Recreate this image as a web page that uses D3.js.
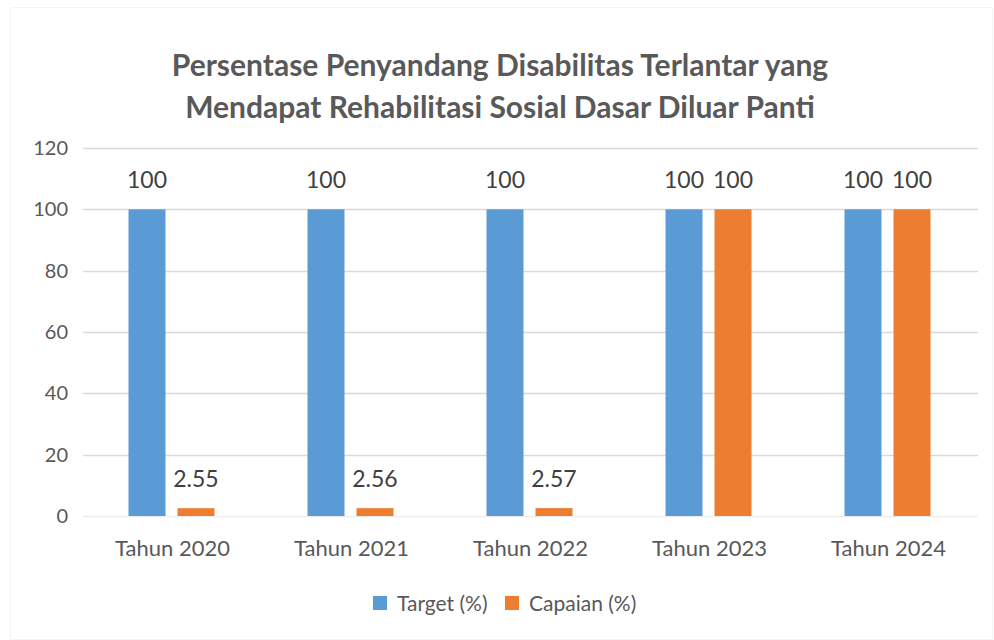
<!DOCTYPE html>
<html>
<head>
<meta charset="utf-8">
<script src="https://cdn.jsdelivr.net/npm/d3@7"></script>
<style>
  body { margin: 0; background: #fff; }
  svg text { font-family: Lato, "Noto Sans", sans-serif; }
</style>
</head>
<body>
<svg id="chart" width="994" height="640"></svg>
<script>
// chart data
var categories = ["Tahun 2020", "Tahun 2021", "Tahun 2022", "Tahun 2023", "Tahun 2024"];
var seriesNames = ["Target (%)", "Capaian (%)"];
var targetValues = [100, 100, 100, 100, 100];
var capaianValues = [2.55, 2.56, 2.57, 100, 100];
var capaianLabels = ["2.55", "2.56", "2.57", "100", "100"];
var yTicks = [0, 20, 40, 60, 80, 100, 120];
var colors = ["#5b9bd5", "#ed7d31"];

var svg = d3.select("#chart");
var margin = { top: 148, right: 16, bottom: 124, left: 83 };
var width = 994 - margin.left - margin.right;
var height = 640 - margin.top - margin.bottom;

// faint outer frame
svg.append("rect")
  .attr("x", 10.5).attr("y", 7.5)
  .attr("width", 994 - 12).attr("height", 640 - 8)
  .attr("fill", "#fff")
  .attr("stroke", "#f4f4f4");

// title
var title = svg.append("text")
  .attr("text-anchor", "middle")
  .attr("fill", "#595959")
  .attr("font-size", 30)
  .attr("font-weight", "bold");
title.append("tspan").attr("x", 500).attr("y", 76).text("Persentase Penyandang Disabilitas Terlantar yang");
title.append("tspan").attr("x", 500).attr("y", 118).text("Mendapat Rehabilitasi Sosial Dasar Diluar Panti");

var g = svg.append("g").attr("transform", "translate(" + margin.left + "," + margin.top + ")");

var x = d3.scaleBand().domain(categories).range([0, width]);
var x1 = d3.scaleBand().domain(seriesNames).range([0, 86]).paddingInner(0.245);
var y = d3.scaleLinear().domain([0, 120]).range([height, 0]);

// gridlines
g.selectAll("line.grid")
  .data(yTicks)
  .enter()
  .append("line")
  .attr("class", "grid")
  .attr("x1", 0)
  .attr("x2", width)
  .attr("y1", (d) => Math.round(y(d)) + 0.5)
  .attr("y2", (d) => Math.round(y(d)) + 0.5)
  .attr("stroke", (d) => (d === 0 ? "#ececec" : "#d9d9d9"))
  .attr("stroke-width", 1.5);

// y tick labels
g.selectAll("text.ytick")
  .data(yTicks)
  .enter()
  .append("text")
  .attr("class", "ytick")
  .attr("x", -15)
  .attr("y", (d) => y(d))
  .attr("dy", "0.35em")
  .attr("text-anchor", "end")
  .attr("fill", "#595959")
  .attr("font-size", 20)
  .text((d) => d);

var rows = categories.map(function (c, i) {
  return { cat: c, values: [targetValues[i], capaianValues[i]], labels: [String(targetValues[i]), capaianLabels[i]] };
});

var groups = g.selectAll("g.cat")
  .data(rows)
  .enter()
  .append("g")
  .attr("class", "cat")
  .attr("transform", (d) => "translate(" + (x(d.cat) + x.bandwidth() / 2 - 44) + ",0)");

groups.selectAll("rect")
  .data((d) => d.values.map((v, j) => ({ key: seriesNames[j], v: v, j: j })))
  .enter()
  .append("rect")
  .attr("x", (d) => x1(d.key))
  .attr("width", x1.bandwidth())
  .attr("y", (d) => y(d.v))
  .attr("height", (d) => y(0) - y(d.v))
  .attr("fill", (d) => colors[d.j]);

groups.selectAll("text.lbl")
  .data((d) => d.values.map((v, j) => ({ key: seriesNames[j], v: v, label: d.labels[j] })))
  .enter()
  .append("text")
  .attr("class", "lbl")
  .attr("x", (d) => x1(d.key) + x1.bandwidth() / 2)
  .attr("y", (d) => y(d.v) - 21)
  .attr("text-anchor", "middle")
  .attr("fill", "#404040")
  .attr("font-size", 23)
  .text((d) => d.label);

// x labels
g.selectAll("text.xlbl")
  .data(categories)
  .enter()
  .append("text")
  .attr("class", "xlbl")
  .attr("x", (d) => x(d) + x.bandwidth() / 2)
  .attr("y", height + 40)
  .attr("text-anchor", "middle")
  .attr("fill", "#595959")
  .attr("font-size", 22)
  .text((d) => d);

// legend
var legendX = [373, 505];
var legend = svg.selectAll("g.legend")
  .data(seriesNames)
  .enter()
  .append("g")
  .attr("class", "legend")
  .attr("transform", (d, i) => "translate(" + legendX[i] + ",596)");
legend.append("rect")
  .attr("width", 14).attr("height", 14)
  .attr("fill", (d, i) => colors[i]);
legend.append("text")
  .attr("x", 24).attr("y", 15)
  .attr("fill", "#595959")
  .attr("font-size", 21)
  .text((d) => d);
</script>
</body>
</html>
